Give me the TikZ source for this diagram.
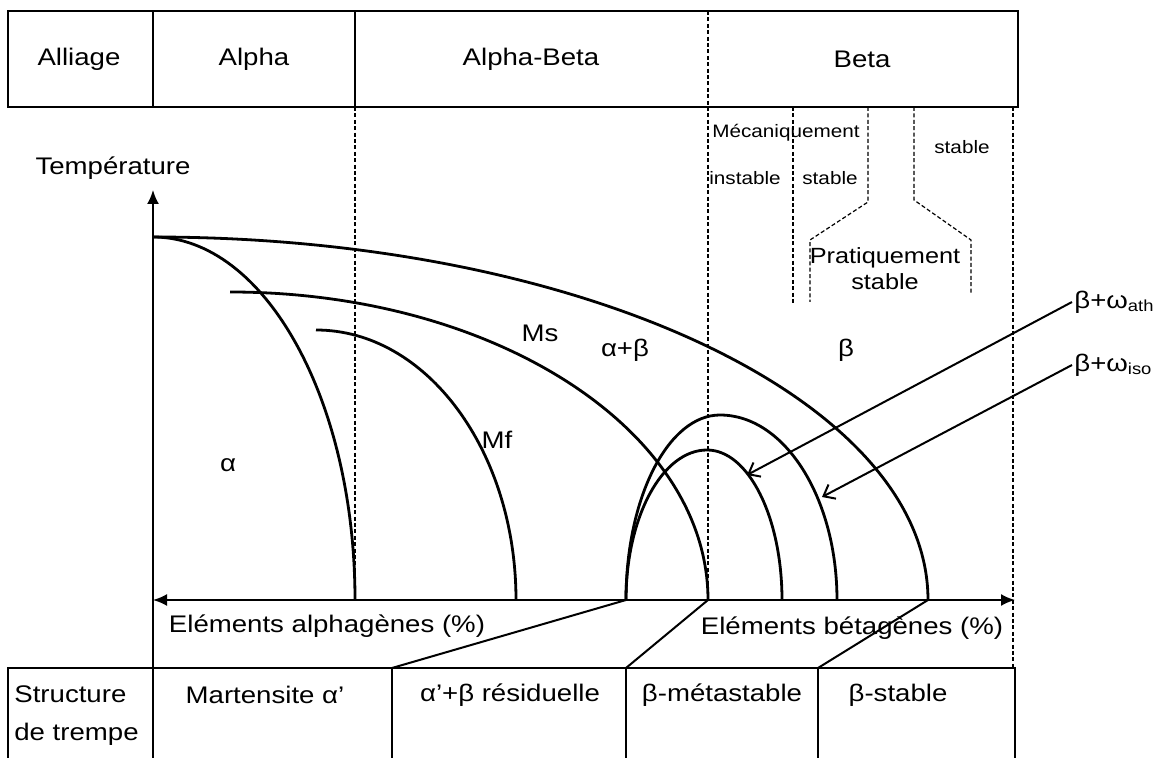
\documentclass[tikz,border=0pt]{standalone}
\usepackage{fontspec}
\setmainfont{Liberation Sans}[FakeStretch=1.15]
\usetikzlibrary{arrows.meta}

\begin{document}
\begin{tikzpicture}[x=0.5pt,y=-0.5pt,
	frame/.style={line width=1pt},
	curve/.style={line width=1.4pt},
	sep/.style={line width=0.6pt,dash pattern=on 2pt off 1.2pt},
	txt/.style={font=\fontsize{12}{19}\selectfont,inner sep=1pt},
	small/.style={font=\fontsize{9}{11}\selectfont,inner sep=1pt},
	axis tip/.style={-{Latex[length=7pt,width=6pt]}},
	open tip/.style={-{Straight Barb[length=5pt,width=8pt]}}]

	\useasboundingbox (0,0) rectangle (1162,758);
	\clip (0,0) rectangle (1162,758);

	% top table
	\draw[frame] (8,11) rectangle (1018,107);
	\draw[frame] (153,11) -- (153,107) (355,11) -- (355,107);
	\node[txt] (alliage) at (79,59)  {Alliage};
	\node[txt] (alpha)   at (254,59) {Alpha};
	\node[txt] (ab)      at (531,59) {Alpha-Beta};
	\node[txt] (beta)    at (862,59) {Beta};

	% axes
	\coordinate (O)    at (153,600);
	\coordinate (Ttop) at (153,190);
	\coordinate (Xend) at (1015,600);
	\draw[frame,axis tip] (153,758) -- (Ttop);
	\draw[frame,{Latex[length=7pt,width=6pt]}-{Latex[length=7pt,width=6pt]}] (O) -- (Xend);
	\node[txt] (temp) at (113,168) {Température};
	\node[txt] (xalpha) at (327,626) {Eléments alphagènes (\%)};
	\node[txt] (xbeta)  at (852,628) {Eléments bétagènes (\%)};

	% domain separators
	\draw[sep] (355,107) -- (355,600);
	\draw[sep] (708,11) -- (708,600);
	\draw[sep] (1013,107) -- (1013,668);
	\draw[sep] (793,107) -- (793,305);
	\draw[sep] (868,107) -- (868,202) -- (810,240) -- (810,302);
	\draw[sep] (914,107) -- (914,200) -- (971,240) -- (971,293);
	\node[small] (meca)  at (786,133) {Mécaniquement};
	\node[small] (inst)  at (745,178) {instable};
	\node[small] (stab1) at (830,178) {stable};
	\node[small] (stab2) at (962,147) {stable};
	\node[txt,font=\fontsize{11}{13}\selectfont,align=center] (prat) at (885,269) {Pratiquement\\stable};

	% transformation curves
	\draw[curve] (153,237) arc[start angle=-90,end angle=0,x radius=775,y radius=363];
	\draw[curve] (153,237) arc[start angle=-90,end angle=0,x radius=202,y radius=363];
	\draw[curve] (230,292) arc[start angle=-90,end angle=0,x radius=478,y radius=308];
	\draw[curve] (316,330) arc[start angle=-90,end angle=0,x radius=200,y radius=270];
	\draw[curve] (626,600) arc[start angle=180,end angle=270,x radius=94,y radius=185]
		arc[start angle=270,end angle=360,x radius=117,y radius=185];
	\draw[curve] (626,600) arc[start angle=180,end angle=270,x radius=81,y radius=150]
		arc[start angle=270,end angle=360,x radius=75,y radius=150];

	\node[txt] (la)  at (228,465) {α};
	\node[txt] (ms)  at (540,333) {Ms};
	\node[txt] (mf)  at (497,440) {Mf};
	\node[txt] (lab) at (625,350) {α+β};
	\node[txt] (lb)  at (846,350) {β};

	% omega phases
	\coordinate (tath) at (747,475);
	\coordinate (tiso) at (822,497);
	\node[txt,anchor=west] (ath) at (1072,302) {β+ω\textsubscript{ath}};
	\node[txt,anchor=west] (iso) at (1072,365) {β+ω\textsubscript{iso}};
	\draw[frame,open tip] (ath.west) -- (tath);
	\draw[frame,open tip] (iso.west) -- (tiso);

	% quench structures
	\coordinate (fL) at (626,600);
	\coordinate (fM) at (708,600);
	\coordinate (fB) at (928,600);
	\coordinate (c1) at (392,668);
	\coordinate (c2) at (626,668);
	\coordinate (c3) at (818,668);
	\draw[frame] (fL) -- (c1) (fM) -- (c2) (fB) -- (c3);
	\draw[frame] (8,758) -- (8,668) -- (1015,668) -- (1015,758);
	\draw[frame] (c1) -- (392,758) (c2) -- (626,758) (c3) -- (818,758);
	\node[txt,anchor=west,align=left] (struct) at (12,716) {Structure\\de trempe};
	\node[txt] (mart) at (265,695) {Martensite α'};
	\node[txt] (resid) at (510,695) {α'+β résiduelle};
	\node[txt] (meta) at (722,695) {β-métastable};
	\node[txt] (stab) at (898,695) {β-stable};
\end{tikzpicture}
\end{document}
